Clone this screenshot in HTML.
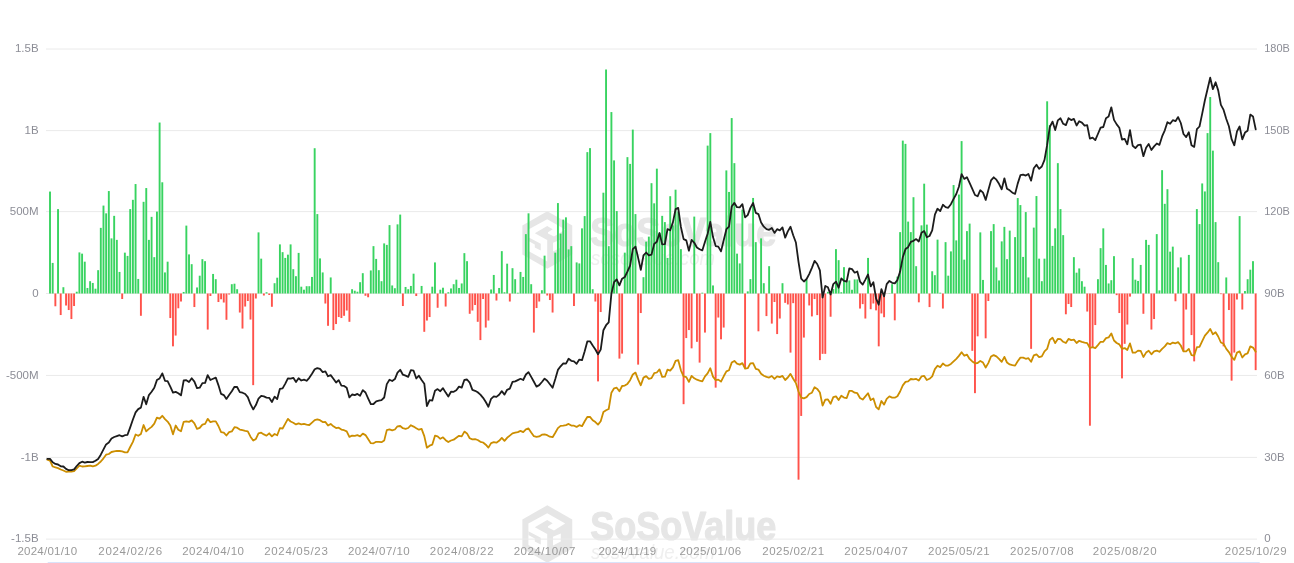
<!DOCTYPE html>
<html lang="en"><head><meta charset="utf-8"><title>Total Bitcoin Spot ETF Net Inflow</title>
<style>
html,body{margin:0;padding:0;background:#fff;}
body{width:1294px;height:563px;overflow:hidden;font-family:"Liberation Sans",sans-serif;}
svg{display:block;}
.lab{font-family:"Liberation Sans",sans-serif;font-size:11.5px;fill:#8c8d96;}
.xl{fill:#999999;}
.wm1{font-family:"Liberation Sans",sans-serif;font-weight:bold;font-size:41px;fill:#e6e6e6;stroke:#e6e6e6;stroke-width:1.2px;stroke-linejoin:round;}
.wm2{font-family:"Liberation Sans",sans-serif;font-style:italic;font-size:20px;fill:#efefef;}
</style></head>
<body>
<svg width="1294" height="563" viewBox="0 0 1294 563">
<rect x="0" y="0" width="1294" height="563" fill="#ffffff"/>
<g transform="translate(0,-294)"><polygon points="547.30,505.20 572.24,519.60 572.24,548.40 547.30,562.80 522.36,548.40 522.36,519.60" fill="#e6e6e6"/><polygon points="528.40,531.30 528.40,523.50 547.20,513.20 565.20,523.50 554.00,530.50 548.00,527.60 548.00,526.30 552.70,523.30 547.20,520.10 534.80,527.30 547.20,534.00 547.20,555.50 528.40,544.90" fill="#ffffff"/><polygon points="528.40,531.30 540.75,537.65 540.75,544.50 534.80,541.50 534.80,538.50 528.40,535.10" fill="#e6e6e6"/><polygon points="553.00,536.80 560.80,533.40 560.80,541.50 553.00,545.50" fill="#ffffff"/><text class="wm1" x="590.3" y="540.4" textLength="186" lengthAdjust="spacingAndGlyphs">SoSoValue</text><text class="wm2" x="591" y="559" textLength="124" lengthAdjust="spacingAndGlyphs">sosovalue.com</text></g>
<g transform="translate(0,0)"><polygon points="547.30,505.20 572.24,519.60 572.24,548.40 547.30,562.80 522.36,548.40 522.36,519.60" fill="#e6e6e6"/><polygon points="528.40,531.30 528.40,523.50 547.20,513.20 565.20,523.50 554.00,530.50 548.00,527.60 548.00,526.30 552.70,523.30 547.20,520.10 534.80,527.30 547.20,534.00 547.20,555.50 528.40,544.90" fill="#ffffff"/><polygon points="528.40,531.30 540.75,537.65 540.75,544.50 534.80,541.50 534.80,538.50 528.40,535.10" fill="#e6e6e6"/><polygon points="553.00,536.80 560.80,533.40 560.80,541.50 553.00,545.50" fill="#ffffff"/><text class="wm1" x="590.3" y="540.4" textLength="186" lengthAdjust="spacingAndGlyphs">SoSoValue</text><text class="wm2" x="591" y="559" textLength="124" lengthAdjust="spacingAndGlyphs">sosovalue.com</text></g>
<g stroke="#eaeaea" stroke-width="1" fill="none">
<line x1="46" y1="49.00" x2="1257" y2="49.00"/>
<line x1="46" y1="130.60" x2="1257" y2="130.60"/>
<line x1="46" y1="211.60" x2="1257" y2="211.60"/>
<line x1="46" y1="293.50" x2="1257" y2="293.50"/>
<line x1="46" y1="375.45" x2="1257" y2="375.45"/>
<line x1="46" y1="457.40" x2="1257" y2="457.40"/>
<line x1="46" y1="539.10" x2="1257" y2="539.10"/>
</g>
<g class="lab" text-anchor="end">
<text x="38.6" y="52.1">1.5B</text>
<text x="38.6" y="133.7">1B</text>
<text x="38.6" y="214.7">500M</text>
<text x="38.6" y="296.6">0</text>
<text x="38.6" y="378.6">-500M</text>
<text x="38.6" y="460.5">-1B</text>
<text x="38.6" y="542.2">-1.5B</text>
</g>
<g class="lab" text-anchor="start">
<text x="1264.2" y="52.1" textLength="25.6" lengthAdjust="spacingAndGlyphs">180B</text>
<text x="1264.2" y="133.7" textLength="25.6" lengthAdjust="spacingAndGlyphs">150B</text>
<text x="1264.2" y="214.7" textLength="25.6" lengthAdjust="spacingAndGlyphs">120B</text>
<text x="1264.2" y="296.6">90B</text>
<text x="1264.2" y="378.6">60B</text>
<text x="1264.2" y="460.5">30B</text>
<text x="1264.2" y="542.2">0</text>
</g>
<g class="lab xl" text-anchor="middle">
<text x="47.3" y="555" textLength="59.7" lengthAdjust="spacing">2024/01/10</text>
<text x="130.2" y="555" textLength="63.7" lengthAdjust="spacing">2024/02/26</text>
<text x="213.1" y="555" textLength="61.7" lengthAdjust="spacing">2024/04/10</text>
<text x="296.0" y="555" textLength="63.7" lengthAdjust="spacing">2024/05/23</text>
<text x="378.8" y="555" textLength="61.7" lengthAdjust="spacing">2024/07/10</text>
<text x="461.7" y="555" textLength="63.7" lengthAdjust="spacing">2024/08/22</text>
<text x="544.6" y="555" textLength="61.7" lengthAdjust="spacing">2024/10/07</text>
<text x="627.4" y="555" textLength="57.7" lengthAdjust="spacing">2024/11/19</text>
<text x="710.3" y="555" textLength="61.7" lengthAdjust="spacing">2025/01/06</text>
<text x="793.2" y="555" textLength="61.7" lengthAdjust="spacing">2025/02/21</text>
<text x="876.1" y="555" textLength="63.7" lengthAdjust="spacing">2025/04/07</text>
<text x="958.9" y="555" textLength="61.7" lengthAdjust="spacing">2025/05/21</text>
<text x="1041.8" y="555" textLength="63.7" lengthAdjust="spacing">2025/07/08</text>
<text x="1124.7" y="555" textLength="63.7" lengthAdjust="spacing">2025/08/20</text>
<text x="1255.7" y="555" textLength="61.7" lengthAdjust="spacing">2025/10/29</text>
</g>
<g fill="#38d360">
<rect x="49.06" y="191.56" width="1.90" height="101.94"/>
<rect x="51.73" y="262.92" width="1.90" height="30.58"/>
<rect x="57.08" y="209.09" width="1.90" height="84.41"/>
<rect x="62.43" y="287.21" width="1.90" height="6.29"/>
<rect x="75.79" y="291.71" width="1.90" height="1.79"/>
<rect x="78.47" y="252.40" width="1.90" height="41.10"/>
<rect x="81.14" y="253.65" width="1.90" height="39.85"/>
<rect x="83.81" y="261.67" width="1.90" height="31.83"/>
<rect x="86.49" y="287.96" width="1.90" height="5.54"/>
<rect x="89.16" y="281.20" width="1.90" height="12.30"/>
<rect x="91.83" y="282.95" width="1.90" height="10.55"/>
<rect x="94.51" y="288.71" width="1.90" height="4.79"/>
<rect x="97.18" y="270.18" width="1.90" height="23.32"/>
<rect x="99.85" y="227.86" width="1.90" height="65.64"/>
<rect x="102.53" y="205.58" width="1.90" height="87.92"/>
<rect x="105.20" y="213.34" width="1.90" height="80.16"/>
<rect x="107.87" y="191.06" width="1.90" height="102.44"/>
<rect x="110.55" y="238.38" width="1.90" height="55.12"/>
<rect x="113.22" y="215.85" width="1.90" height="77.65"/>
<rect x="115.89" y="239.88" width="1.90" height="53.62"/>
<rect x="118.57" y="271.93" width="1.90" height="21.57"/>
<rect x="123.91" y="252.65" width="1.90" height="40.85"/>
<rect x="126.59" y="255.91" width="1.90" height="37.59"/>
<rect x="129.26" y="209.09" width="1.90" height="84.41"/>
<rect x="131.93" y="199.82" width="1.90" height="93.68"/>
<rect x="134.61" y="184.05" width="1.90" height="109.45"/>
<rect x="137.28" y="278.94" width="1.90" height="14.56"/>
<rect x="142.63" y="201.82" width="1.90" height="91.68"/>
<rect x="145.30" y="188.05" width="1.90" height="105.45"/>
<rect x="147.97" y="239.88" width="1.90" height="53.62"/>
<rect x="150.64" y="216.85" width="1.90" height="76.65"/>
<rect x="153.32" y="257.16" width="1.90" height="36.34"/>
<rect x="155.99" y="211.59" width="1.90" height="81.91"/>
<rect x="158.66" y="122.54" width="1.90" height="170.96"/>
<rect x="161.34" y="182.29" width="1.90" height="111.21"/>
<rect x="164.01" y="272.43" width="1.90" height="21.07"/>
<rect x="166.68" y="261.67" width="1.90" height="31.83"/>
<rect x="182.72" y="291.96" width="1.90" height="1.54"/>
<rect x="185.40" y="225.61" width="1.90" height="67.89"/>
<rect x="188.07" y="254.40" width="1.90" height="39.10"/>
<rect x="190.74" y="264.17" width="1.90" height="29.33"/>
<rect x="196.09" y="287.46" width="1.90" height="6.04"/>
<rect x="198.76" y="275.69" width="1.90" height="17.81"/>
<rect x="201.44" y="259.16" width="1.90" height="34.34"/>
<rect x="204.11" y="261.17" width="1.90" height="32.33"/>
<rect x="212.13" y="273.94" width="1.90" height="19.56"/>
<rect x="214.80" y="279.19" width="1.90" height="14.31"/>
<rect x="230.84" y="284.20" width="1.90" height="9.30"/>
<rect x="233.52" y="283.70" width="1.90" height="9.80"/>
<rect x="236.19" y="289.21" width="1.90" height="4.29"/>
<rect x="257.58" y="232.37" width="1.90" height="61.13"/>
<rect x="260.25" y="258.66" width="1.90" height="34.84"/>
<rect x="265.60" y="292.21" width="1.90" height="1.29"/>
<rect x="273.62" y="283.20" width="1.90" height="10.30"/>
<rect x="276.29" y="277.69" width="1.90" height="15.81"/>
<rect x="278.96" y="244.39" width="1.90" height="49.11"/>
<rect x="281.64" y="252.15" width="1.90" height="41.35"/>
<rect x="284.31" y="257.91" width="1.90" height="35.59"/>
<rect x="286.98" y="254.66" width="1.90" height="38.84"/>
<rect x="289.66" y="244.39" width="1.90" height="49.11"/>
<rect x="292.33" y="269.18" width="1.90" height="24.32"/>
<rect x="295.00" y="276.19" width="1.90" height="17.31"/>
<rect x="297.68" y="252.90" width="1.90" height="40.60"/>
<rect x="300.35" y="286.70" width="1.90" height="6.80"/>
<rect x="303.02" y="289.71" width="1.90" height="3.79"/>
<rect x="305.70" y="286.20" width="1.90" height="7.30"/>
<rect x="308.37" y="286.20" width="1.90" height="7.30"/>
<rect x="311.04" y="276.94" width="1.90" height="16.56"/>
<rect x="313.72" y="148.22" width="1.90" height="145.28"/>
<rect x="316.39" y="214.09" width="1.90" height="79.41"/>
<rect x="319.06" y="258.41" width="1.90" height="35.09"/>
<rect x="321.74" y="272.43" width="1.90" height="21.07"/>
<rect x="329.76" y="277.44" width="1.90" height="16.06"/>
<rect x="351.14" y="289.21" width="1.90" height="4.29"/>
<rect x="353.81" y="290.71" width="1.90" height="2.79"/>
<rect x="356.49" y="291.71" width="1.90" height="1.79"/>
<rect x="359.16" y="282.20" width="1.90" height="11.30"/>
<rect x="361.83" y="273.18" width="1.90" height="20.32"/>
<rect x="369.85" y="270.43" width="1.90" height="23.07"/>
<rect x="372.53" y="246.14" width="1.90" height="47.36"/>
<rect x="375.20" y="258.91" width="1.90" height="34.59"/>
<rect x="377.87" y="270.18" width="1.90" height="23.32"/>
<rect x="380.55" y="281.20" width="1.90" height="12.30"/>
<rect x="383.22" y="243.39" width="1.90" height="50.11"/>
<rect x="385.89" y="244.89" width="1.90" height="48.61"/>
<rect x="388.57" y="225.11" width="1.90" height="68.39"/>
<rect x="391.24" y="285.45" width="1.90" height="8.05"/>
<rect x="393.91" y="288.21" width="1.90" height="5.29"/>
<rect x="396.59" y="224.36" width="1.90" height="69.14"/>
<rect x="399.26" y="214.59" width="1.90" height="78.91"/>
<rect x="404.61" y="286.96" width="1.90" height="6.54"/>
<rect x="407.28" y="289.21" width="1.90" height="4.29"/>
<rect x="409.95" y="285.95" width="1.90" height="7.55"/>
<rect x="412.63" y="273.68" width="1.90" height="19.82"/>
<rect x="420.65" y="285.95" width="1.90" height="7.55"/>
<rect x="431.34" y="286.70" width="1.90" height="6.80"/>
<rect x="434.01" y="262.42" width="1.90" height="31.08"/>
<rect x="439.36" y="289.71" width="1.90" height="3.79"/>
<rect x="442.03" y="287.71" width="1.90" height="5.79"/>
<rect x="447.38" y="292.21" width="1.90" height="1.29"/>
<rect x="450.05" y="288.46" width="1.90" height="5.04"/>
<rect x="452.73" y="284.20" width="1.90" height="9.30"/>
<rect x="455.40" y="279.69" width="1.90" height="13.81"/>
<rect x="458.07" y="287.96" width="1.90" height="5.54"/>
<rect x="460.75" y="283.45" width="1.90" height="10.05"/>
<rect x="463.42" y="253.15" width="1.90" height="40.35"/>
<rect x="466.09" y="261.17" width="1.90" height="32.33"/>
<rect x="490.15" y="289.46" width="1.90" height="4.04"/>
<rect x="492.83" y="274.94" width="1.90" height="18.56"/>
<rect x="498.17" y="287.96" width="1.90" height="5.54"/>
<rect x="500.85" y="251.15" width="1.90" height="42.35"/>
<rect x="503.52" y="292.21" width="1.90" height="1.29"/>
<rect x="506.19" y="263.67" width="1.90" height="29.83"/>
<rect x="511.54" y="268.18" width="1.90" height="25.32"/>
<rect x="514.21" y="279.19" width="1.90" height="14.31"/>
<rect x="516.89" y="292.71" width="1.90" height="0.79"/>
<rect x="519.56" y="271.93" width="1.90" height="21.57"/>
<rect x="522.23" y="276.94" width="1.90" height="16.56"/>
<rect x="524.91" y="234.12" width="1.90" height="59.38"/>
<rect x="527.58" y="213.34" width="1.90" height="80.16"/>
<rect x="530.25" y="284.20" width="1.90" height="9.30"/>
<rect x="540.95" y="290.21" width="1.90" height="3.29"/>
<rect x="543.62" y="255.66" width="1.90" height="37.84"/>
<rect x="554.31" y="252.65" width="1.90" height="40.85"/>
<rect x="556.98" y="203.08" width="1.90" height="90.42"/>
<rect x="559.66" y="233.62" width="1.90" height="59.88"/>
<rect x="562.33" y="219.60" width="1.90" height="73.90"/>
<rect x="565.00" y="217.35" width="1.90" height="76.15"/>
<rect x="567.68" y="249.40" width="1.90" height="44.10"/>
<rect x="570.35" y="246.14" width="1.90" height="47.36"/>
<rect x="575.70" y="262.42" width="1.90" height="31.08"/>
<rect x="578.37" y="263.42" width="1.90" height="30.08"/>
<rect x="581.04" y="228.36" width="1.90" height="65.14"/>
<rect x="583.72" y="216.10" width="1.90" height="77.40"/>
<rect x="586.39" y="152.13" width="1.90" height="141.37"/>
<rect x="589.06" y="148.12" width="1.90" height="145.38"/>
<rect x="591.74" y="289.21" width="1.90" height="4.29"/>
<rect x="602.43" y="192.69" width="1.90" height="100.81"/>
<rect x="605.10" y="69.50" width="1.90" height="224.00"/>
<rect x="607.78" y="246.14" width="1.90" height="47.36"/>
<rect x="610.45" y="112.07" width="1.90" height="181.43"/>
<rect x="613.12" y="160.39" width="1.90" height="133.11"/>
<rect x="615.80" y="211.09" width="1.90" height="82.41"/>
<rect x="623.82" y="252.65" width="1.90" height="40.85"/>
<rect x="626.49" y="157.14" width="1.90" height="136.36"/>
<rect x="629.16" y="163.90" width="1.90" height="129.60"/>
<rect x="631.84" y="129.59" width="1.90" height="163.91"/>
<rect x="634.51" y="214.09" width="1.90" height="79.41"/>
<rect x="642.53" y="277.19" width="1.90" height="16.31"/>
<rect x="645.20" y="241.64" width="1.90" height="51.86"/>
<rect x="647.88" y="236.63" width="1.90" height="56.87"/>
<rect x="650.55" y="183.18" width="1.90" height="110.32"/>
<rect x="653.22" y="203.33" width="1.90" height="90.17"/>
<rect x="655.90" y="168.66" width="1.90" height="124.84"/>
<rect x="658.57" y="232.87" width="1.90" height="60.63"/>
<rect x="661.24" y="215.85" width="1.90" height="77.65"/>
<rect x="663.92" y="222.11" width="1.90" height="71.39"/>
<rect x="666.59" y="257.91" width="1.90" height="35.59"/>
<rect x="669.26" y="196.20" width="1.90" height="97.30"/>
<rect x="671.94" y="225.36" width="1.90" height="68.14"/>
<rect x="674.61" y="189.69" width="1.90" height="103.81"/>
<rect x="677.28" y="211.59" width="1.90" height="81.91"/>
<rect x="679.96" y="249.15" width="1.90" height="44.35"/>
<rect x="693.32" y="216.60" width="1.90" height="76.90"/>
<rect x="701.34" y="292.68" width="1.90" height="0.82"/>
<rect x="706.69" y="145.62" width="1.90" height="147.88"/>
<rect x="709.36" y="133.10" width="1.90" height="160.40"/>
<rect x="712.04" y="285.45" width="1.90" height="8.05"/>
<rect x="725.40" y="170.41" width="1.90" height="123.09"/>
<rect x="728.08" y="191.94" width="1.90" height="101.56"/>
<rect x="730.75" y="118.08" width="1.90" height="175.42"/>
<rect x="733.42" y="163.15" width="1.90" height="130.35"/>
<rect x="736.10" y="253.65" width="1.90" height="39.85"/>
<rect x="738.77" y="263.42" width="1.90" height="30.08"/>
<rect x="741.44" y="209.59" width="1.90" height="83.91"/>
<rect x="746.79" y="291.37" width="1.90" height="2.13"/>
<rect x="749.46" y="279.10" width="1.90" height="14.40"/>
<rect x="752.13" y="197.95" width="1.90" height="95.55"/>
<rect x="754.81" y="242.14" width="1.90" height="51.36"/>
<rect x="760.15" y="238.38" width="1.90" height="55.12"/>
<rect x="762.83" y="283.19" width="1.90" height="10.31"/>
<rect x="768.17" y="266.17" width="1.90" height="27.33"/>
<rect x="781.54" y="283.19" width="1.90" height="10.31"/>
<rect x="805.60" y="279.76" width="1.90" height="13.74"/>
<rect x="826.99" y="291.86" width="1.90" height="1.64"/>
<rect x="832.33" y="289.08" width="1.90" height="4.42"/>
<rect x="835.01" y="249.15" width="1.90" height="44.35"/>
<rect x="837.68" y="260.16" width="1.90" height="33.34"/>
<rect x="840.35" y="292.19" width="1.90" height="1.31"/>
<rect x="843.03" y="267.16" width="1.90" height="26.34"/>
<rect x="845.70" y="281.56" width="1.90" height="11.94"/>
<rect x="848.37" y="280.41" width="1.90" height="13.09"/>
<rect x="851.05" y="289.74" width="1.90" height="3.76"/>
<rect x="853.72" y="279.43" width="1.90" height="14.07"/>
<rect x="856.39" y="279.43" width="1.90" height="14.07"/>
<rect x="867.09" y="257.91" width="1.90" height="35.59"/>
<rect x="888.47" y="293.17" width="1.90" height="0.33"/>
<rect x="891.15" y="284.17" width="1.90" height="9.33"/>
<rect x="896.49" y="276.65" width="1.90" height="16.85"/>
<rect x="899.17" y="232.12" width="1.90" height="61.38"/>
<rect x="901.84" y="140.61" width="1.90" height="152.89"/>
<rect x="904.51" y="143.87" width="1.90" height="149.63"/>
<rect x="907.19" y="221.60" width="1.90" height="71.90"/>
<rect x="909.86" y="232.12" width="1.90" height="61.38"/>
<rect x="912.53" y="197.20" width="1.90" height="96.30"/>
<rect x="915.21" y="266.18" width="1.90" height="27.32"/>
<rect x="920.55" y="225.36" width="1.90" height="68.14"/>
<rect x="923.23" y="183.68" width="1.90" height="109.82"/>
<rect x="925.90" y="224.61" width="1.90" height="68.89"/>
<rect x="931.25" y="271.25" width="1.90" height="22.25"/>
<rect x="933.92" y="275.18" width="1.90" height="18.32"/>
<rect x="936.59" y="239.63" width="1.90" height="53.87"/>
<rect x="939.27" y="292.68" width="1.90" height="0.82"/>
<rect x="944.61" y="242.14" width="1.90" height="51.36"/>
<rect x="947.29" y="275.69" width="1.90" height="17.81"/>
<rect x="949.96" y="251.40" width="1.90" height="42.10"/>
<rect x="952.63" y="185.05" width="1.90" height="108.45"/>
<rect x="955.30" y="240.38" width="1.90" height="53.12"/>
<rect x="957.98" y="194.56" width="1.90" height="98.94"/>
<rect x="960.65" y="141.11" width="1.90" height="152.39"/>
<rect x="963.32" y="259.66" width="1.90" height="33.84"/>
<rect x="966.00" y="231.12" width="1.90" height="62.38"/>
<rect x="968.67" y="223.61" width="1.90" height="69.89"/>
<rect x="979.36" y="232.37" width="1.90" height="61.13"/>
<rect x="982.04" y="279.94" width="1.90" height="13.56"/>
<rect x="990.06" y="231.12" width="1.90" height="62.38"/>
<rect x="992.73" y="224.11" width="1.90" height="69.39"/>
<rect x="995.40" y="267.43" width="1.90" height="26.07"/>
<rect x="998.08" y="280.45" width="1.90" height="13.05"/>
<rect x="1000.75" y="241.38" width="1.90" height="52.12"/>
<rect x="1003.42" y="226.86" width="1.90" height="66.64"/>
<rect x="1006.10" y="259.16" width="1.90" height="34.34"/>
<rect x="1008.77" y="230.62" width="1.90" height="62.88"/>
<rect x="1011.44" y="292.68" width="1.90" height="0.82"/>
<rect x="1014.12" y="237.13" width="1.90" height="56.37"/>
<rect x="1016.79" y="198.07" width="1.90" height="95.43"/>
<rect x="1019.46" y="205.08" width="1.90" height="88.42"/>
<rect x="1022.14" y="256.91" width="1.90" height="36.59"/>
<rect x="1024.81" y="212.09" width="1.90" height="81.41"/>
<rect x="1027.48" y="277.44" width="1.90" height="16.06"/>
<rect x="1032.83" y="227.61" width="1.90" height="65.89"/>
<rect x="1035.50" y="196.06" width="1.90" height="97.44"/>
<rect x="1038.18" y="258.66" width="1.90" height="34.84"/>
<rect x="1040.85" y="281.20" width="1.90" height="12.30"/>
<rect x="1043.52" y="258.66" width="1.90" height="34.84"/>
<rect x="1046.20" y="101.30" width="1.90" height="192.20"/>
<rect x="1048.87" y="124.99" width="1.90" height="168.51"/>
<rect x="1051.54" y="245.89" width="1.90" height="47.61"/>
<rect x="1054.22" y="228.36" width="1.90" height="65.14"/>
<rect x="1056.89" y="163.15" width="1.90" height="130.35"/>
<rect x="1059.56" y="209.09" width="1.90" height="84.41"/>
<rect x="1062.24" y="235.13" width="1.90" height="58.37"/>
<rect x="1072.93" y="257.16" width="1.90" height="36.34"/>
<rect x="1075.60" y="272.68" width="1.90" height="20.82"/>
<rect x="1078.28" y="268.43" width="1.90" height="25.07"/>
<rect x="1080.95" y="281.20" width="1.90" height="12.30"/>
<rect x="1083.62" y="286.70" width="1.90" height="6.80"/>
<rect x="1096.99" y="279.19" width="1.90" height="14.31"/>
<rect x="1099.66" y="248.15" width="1.90" height="45.35"/>
<rect x="1102.34" y="228.36" width="1.90" height="65.14"/>
<rect x="1105.01" y="264.92" width="1.90" height="28.58"/>
<rect x="1107.68" y="283.45" width="1.90" height="10.05"/>
<rect x="1110.36" y="280.19" width="1.90" height="13.31"/>
<rect x="1113.03" y="256.16" width="1.90" height="37.34"/>
<rect x="1131.74" y="258.16" width="1.90" height="35.34"/>
<rect x="1134.42" y="279.69" width="1.90" height="13.81"/>
<rect x="1137.09" y="280.95" width="1.90" height="12.55"/>
<rect x="1139.76" y="264.92" width="1.90" height="28.58"/>
<rect x="1145.11" y="239.88" width="1.90" height="53.62"/>
<rect x="1147.78" y="244.89" width="1.90" height="48.61"/>
<rect x="1155.80" y="234.12" width="1.90" height="59.38"/>
<rect x="1158.47" y="290.39" width="1.90" height="3.11"/>
<rect x="1161.15" y="170.16" width="1.90" height="123.34"/>
<rect x="1163.82" y="203.83" width="1.90" height="89.67"/>
<rect x="1166.49" y="189.19" width="1.90" height="104.31"/>
<rect x="1169.17" y="251.65" width="1.90" height="41.85"/>
<rect x="1171.84" y="246.64" width="1.90" height="46.86"/>
<rect x="1177.19" y="267.43" width="1.90" height="26.07"/>
<rect x="1179.86" y="257.41" width="1.90" height="36.09"/>
<rect x="1187.88" y="254.91" width="1.90" height="38.59"/>
<rect x="1195.90" y="209.09" width="1.90" height="84.41"/>
<rect x="1198.57" y="224.11" width="1.90" height="69.39"/>
<rect x="1201.25" y="183.43" width="1.90" height="110.07"/>
<rect x="1203.92" y="191.44" width="1.90" height="102.06"/>
<rect x="1206.59" y="133.10" width="1.90" height="160.40"/>
<rect x="1209.27" y="97.04" width="1.90" height="196.46"/>
<rect x="1211.94" y="150.63" width="1.90" height="142.87"/>
<rect x="1214.61" y="222.11" width="1.90" height="71.39"/>
<rect x="1217.29" y="262.17" width="1.90" height="31.33"/>
<rect x="1225.31" y="277.44" width="1.90" height="16.06"/>
<rect x="1238.67" y="216.10" width="1.90" height="77.40"/>
<rect x="1244.02" y="291.05" width="1.90" height="2.45"/>
<rect x="1246.69" y="279.19" width="1.90" height="14.31"/>
<rect x="1249.37" y="269.68" width="1.90" height="23.82"/>
<rect x="1252.04" y="261.17" width="1.90" height="32.33"/>
</g>
<g fill="#ff524a">
<rect x="54.41" y="293.50" width="1.90" height="12.78"/>
<rect x="59.75" y="293.50" width="1.90" height="21.54"/>
<rect x="65.10" y="293.50" width="1.90" height="12.02"/>
<rect x="67.77" y="293.50" width="1.90" height="16.53"/>
<rect x="70.45" y="293.50" width="1.90" height="25.54"/>
<rect x="73.12" y="293.50" width="1.90" height="12.52"/>
<rect x="121.24" y="293.50" width="1.90" height="5.51"/>
<rect x="139.95" y="293.50" width="1.90" height="22.29"/>
<rect x="169.36" y="293.50" width="1.90" height="24.54"/>
<rect x="172.03" y="293.50" width="1.90" height="52.84"/>
<rect x="174.70" y="293.50" width="1.90" height="42.07"/>
<rect x="177.38" y="293.50" width="1.90" height="14.78"/>
<rect x="180.05" y="293.50" width="1.90" height="8.02"/>
<rect x="193.42" y="293.50" width="1.90" height="13.53"/>
<rect x="206.78" y="293.50" width="1.90" height="36.06"/>
<rect x="209.46" y="293.50" width="1.90" height="2.51"/>
<rect x="217.48" y="293.50" width="1.90" height="8.52"/>
<rect x="220.15" y="293.50" width="1.90" height="5.76"/>
<rect x="222.82" y="293.50" width="1.90" height="9.02"/>
<rect x="225.50" y="293.50" width="1.90" height="26.30"/>
<rect x="228.17" y="293.50" width="1.90" height="1.01"/>
<rect x="238.86" y="293.50" width="1.90" height="19.03"/>
<rect x="241.54" y="293.50" width="1.90" height="35.06"/>
<rect x="244.21" y="293.50" width="1.90" height="13.03"/>
<rect x="246.88" y="293.50" width="1.90" height="7.52"/>
<rect x="249.56" y="293.50" width="1.90" height="26.05"/>
<rect x="252.23" y="293.50" width="1.90" height="91.65"/>
<rect x="254.90" y="293.50" width="1.90" height="5.01"/>
<rect x="262.92" y="293.50" width="1.90" height="2.01"/>
<rect x="268.27" y="293.50" width="1.90" height="1.51"/>
<rect x="270.94" y="293.50" width="1.90" height="13.28"/>
<rect x="324.41" y="293.50" width="1.90" height="10.02"/>
<rect x="327.08" y="293.50" width="1.90" height="32.31"/>
<rect x="332.43" y="293.50" width="1.90" height="36.56"/>
<rect x="335.10" y="293.50" width="1.90" height="30.55"/>
<rect x="337.78" y="293.50" width="1.90" height="23.54"/>
<rect x="340.45" y="293.50" width="1.90" height="24.54"/>
<rect x="343.12" y="293.50" width="1.90" height="22.29"/>
<rect x="345.80" y="293.50" width="1.90" height="17.03"/>
<rect x="348.47" y="293.50" width="1.90" height="28.30"/>
<rect x="364.51" y="293.50" width="1.90" height="2.26"/>
<rect x="367.18" y="293.50" width="1.90" height="3.76"/>
<rect x="401.93" y="293.50" width="1.90" height="12.52"/>
<rect x="415.30" y="293.50" width="1.90" height="2.51"/>
<rect x="423.32" y="293.50" width="1.90" height="38.31"/>
<rect x="425.99" y="293.50" width="1.90" height="27.05"/>
<rect x="428.67" y="293.50" width="1.90" height="23.54"/>
<rect x="436.69" y="293.50" width="1.90" height="14.28"/>
<rect x="444.71" y="293.50" width="1.90" height="13.03"/>
<rect x="468.77" y="293.50" width="1.90" height="20.29"/>
<rect x="471.44" y="293.50" width="1.90" height="17.03"/>
<rect x="474.11" y="293.50" width="1.90" height="11.52"/>
<rect x="476.79" y="293.50" width="1.90" height="28.30"/>
<rect x="479.46" y="293.50" width="1.90" height="46.58"/>
<rect x="482.13" y="293.50" width="1.90" height="5.51"/>
<rect x="484.81" y="293.50" width="1.90" height="34.06"/>
<rect x="487.48" y="293.50" width="1.90" height="27.05"/>
<rect x="495.50" y="293.50" width="1.90" height="7.02"/>
<rect x="508.87" y="293.50" width="1.90" height="8.02"/>
<rect x="532.93" y="293.50" width="1.90" height="39.07"/>
<rect x="535.60" y="293.50" width="1.90" height="14.53"/>
<rect x="538.27" y="293.50" width="1.90" height="8.02"/>
<rect x="546.29" y="293.50" width="1.90" height="2.01"/>
<rect x="548.97" y="293.50" width="1.90" height="6.52"/>
<rect x="551.64" y="293.50" width="1.90" height="19.03"/>
<rect x="573.02" y="293.50" width="1.90" height="12.52"/>
<rect x="594.41" y="293.50" width="1.90" height="8.02"/>
<rect x="597.08" y="293.50" width="1.90" height="87.89"/>
<rect x="599.76" y="293.50" width="1.90" height="18.53"/>
<rect x="618.47" y="293.50" width="1.90" height="65.11"/>
<rect x="621.14" y="293.50" width="1.90" height="60.10"/>
<rect x="637.18" y="293.50" width="1.90" height="71.12"/>
<rect x="639.86" y="293.50" width="1.90" height="19.54"/>
<rect x="682.63" y="293.50" width="1.90" height="110.68"/>
<rect x="685.30" y="293.50" width="1.90" height="44.57"/>
<rect x="687.98" y="293.50" width="1.90" height="36.56"/>
<rect x="690.65" y="293.50" width="1.90" height="54.84"/>
<rect x="696.00" y="293.50" width="1.90" height="48.33"/>
<rect x="698.67" y="293.50" width="1.90" height="69.11"/>
<rect x="704.02" y="293.50" width="1.90" height="39.07"/>
<rect x="714.71" y="293.50" width="1.90" height="94.15"/>
<rect x="717.38" y="293.50" width="1.90" height="24.04"/>
<rect x="720.06" y="293.50" width="1.90" height="45.83"/>
<rect x="722.73" y="293.50" width="1.90" height="34.06"/>
<rect x="744.12" y="293.50" width="1.90" height="74.62"/>
<rect x="757.48" y="293.50" width="1.90" height="37.81"/>
<rect x="765.50" y="293.50" width="1.90" height="22.58"/>
<rect x="770.85" y="293.50" width="1.90" height="30.10"/>
<rect x="773.52" y="293.50" width="1.90" height="8.51"/>
<rect x="776.19" y="293.50" width="1.90" height="40.57"/>
<rect x="778.87" y="293.50" width="1.90" height="25.03"/>
<rect x="784.21" y="293.50" width="1.90" height="9.33"/>
<rect x="786.89" y="293.50" width="1.90" height="10.96"/>
<rect x="789.56" y="293.50" width="1.90" height="59.10"/>
<rect x="792.23" y="293.50" width="1.90" height="9.65"/>
<rect x="794.91" y="293.50" width="1.90" height="88.14"/>
<rect x="797.58" y="293.50" width="1.90" height="186.18"/>
<rect x="800.25" y="293.50" width="1.90" height="122.44"/>
<rect x="802.93" y="293.50" width="1.90" height="44.07"/>
<rect x="808.27" y="293.50" width="1.90" height="11.94"/>
<rect x="810.95" y="293.50" width="1.90" height="22.90"/>
<rect x="813.62" y="293.50" width="1.90" height="5.56"/>
<rect x="816.29" y="293.50" width="1.90" height="21.60"/>
<rect x="818.97" y="293.50" width="1.90" height="66.61"/>
<rect x="821.64" y="293.50" width="1.90" height="60.35"/>
<rect x="824.31" y="293.50" width="1.90" height="60.35"/>
<rect x="829.66" y="293.50" width="1.90" height="23.23"/>
<rect x="859.07" y="293.50" width="1.90" height="15.05"/>
<rect x="861.74" y="293.50" width="1.90" height="10.63"/>
<rect x="864.41" y="293.50" width="1.90" height="25.03"/>
<rect x="869.76" y="293.50" width="1.90" height="15.71"/>
<rect x="872.43" y="293.50" width="1.90" height="9.98"/>
<rect x="875.11" y="293.50" width="1.90" height="16.85"/>
<rect x="877.78" y="293.50" width="1.90" height="52.84"/>
<rect x="880.45" y="293.50" width="1.90" height="19.96"/>
<rect x="883.13" y="293.50" width="1.90" height="23.72"/>
<rect x="885.80" y="293.50" width="1.90" height="0.16"/>
<rect x="893.82" y="293.50" width="1.90" height="26.83"/>
<rect x="917.88" y="293.50" width="1.90" height="8.83"/>
<rect x="928.57" y="293.50" width="1.90" height="13.58"/>
<rect x="941.94" y="293.50" width="1.90" height="15.05"/>
<rect x="971.34" y="293.50" width="1.90" height="57.34"/>
<rect x="974.02" y="293.50" width="1.90" height="99.66"/>
<rect x="976.69" y="293.50" width="1.90" height="42.82"/>
<rect x="984.71" y="293.50" width="1.90" height="44.82"/>
<rect x="987.38" y="293.50" width="1.90" height="7.52"/>
<rect x="1030.16" y="293.50" width="1.90" height="55.34"/>
<rect x="1064.91" y="293.50" width="1.90" height="20.79"/>
<rect x="1067.58" y="293.50" width="1.90" height="10.52"/>
<rect x="1070.26" y="293.50" width="1.90" height="13.53"/>
<rect x="1086.30" y="293.50" width="1.90" height="18.03"/>
<rect x="1088.97" y="293.50" width="1.90" height="132.21"/>
<rect x="1091.64" y="293.50" width="1.90" height="53.59"/>
<rect x="1094.32" y="293.50" width="1.90" height="31.55"/>
<rect x="1115.70" y="293.50" width="1.90" height="1.64"/>
<rect x="1118.38" y="293.50" width="1.90" height="19.54"/>
<rect x="1121.05" y="293.50" width="1.90" height="84.89"/>
<rect x="1123.72" y="293.50" width="1.90" height="50.33"/>
<rect x="1126.40" y="293.50" width="1.90" height="31.05"/>
<rect x="1129.07" y="293.50" width="1.90" height="3.11"/>
<rect x="1142.44" y="293.50" width="1.90" height="20.29"/>
<rect x="1150.46" y="293.50" width="1.90" height="36.06"/>
<rect x="1153.13" y="293.50" width="1.90" height="25.54"/>
<rect x="1174.51" y="293.50" width="1.90" height="7.77"/>
<rect x="1182.53" y="293.50" width="1.90" height="57.84"/>
<rect x="1185.21" y="293.50" width="1.90" height="16.03"/>
<rect x="1190.55" y="293.50" width="1.90" height="41.57"/>
<rect x="1193.23" y="293.50" width="1.90" height="67.86"/>
<rect x="1219.96" y="293.50" width="1.90" height="0.65"/>
<rect x="1222.63" y="293.50" width="1.90" height="52.84"/>
<rect x="1227.98" y="293.50" width="1.90" height="16.53"/>
<rect x="1230.65" y="293.50" width="1.90" height="87.14"/>
<rect x="1233.33" y="293.50" width="1.90" height="59.10"/>
<rect x="1236.00" y="293.50" width="1.90" height="6.01"/>
<rect x="1241.35" y="293.50" width="1.90" height="16.03"/>
<rect x="1254.71" y="293.50" width="1.90" height="76.62"/>
</g>
<polyline points="47.3,459.7 50.0,460.7 52.7,466.5 55.4,467.3 58.0,468.1 60.7,469.5 63.4,470.5 66.0,471.8 68.7,471.5 71.4,471.5 74.1,471.2 76.7,468.5 79.4,465.7 82.1,466.5 84.8,466.4 87.4,466.0 90.1,465.7 92.8,466.4 95.5,465.7 98.1,463.9 100.8,461.5 103.5,458.3 106.1,454.7 108.8,454.0 111.5,452.0 114.2,451.4 116.8,450.9 119.5,451.0 122.2,451.4 124.9,452.3 127.5,452.4 130.2,447.0 132.9,441.9 135.6,434.5 138.2,435.8 140.9,433.9 143.6,425.0 146.2,431.3 148.9,428.9 151.6,426.9 154.3,423.7 156.9,417.6 159.6,418.7 162.3,415.8 165.0,419.1 167.6,421.6 170.3,425.5 173.0,434.3 175.7,425.5 178.3,429.7 181.0,431.3 183.7,421.8 186.3,421.4 189.0,421.9 191.7,420.4 194.4,423.4 197.0,428.9 199.7,427.9 202.4,424.6 205.1,423.8 207.7,418.9 210.4,422.1 213.1,421.4 215.8,421.4 218.4,426.0 221.1,432.2 223.8,432.6 226.4,435.5 229.1,432.1 231.8,431.4 234.5,427.2 237.1,427.7 239.8,429.6 242.5,430.2 245.2,430.9 247.8,431.4 250.5,436.7 253.2,440.6 255.9,438.9 258.5,433.4 261.2,432.7 263.9,434.4 266.5,435.7 269.2,433.3 271.9,436.4 274.6,434.0 277.2,435.3 279.9,428.2 282.6,428.5 285.3,423.6 287.9,418.9 290.6,421.5 293.3,422.7 296.0,424.4 298.6,423.4 301.3,424.4 304.0,423.9 306.6,424.6 309.3,425.0 312.0,422.6 314.7,420.1 317.3,419.4 320.0,420.2 322.7,422.1 325.4,421.9 328.0,425.6 330.7,423.9 333.4,426.3 336.1,428.1 338.7,427.7 341.4,429.6 344.1,430.2 346.7,431.4 349.4,436.8 352.1,435.7 354.8,435.9 357.4,435.2 360.1,436.3 362.8,433.6 365.5,435.1 368.1,439.1 370.8,443.2 373.5,443.3 376.2,441.8 378.8,441.9 381.5,442.2 384.2,440.6 386.8,430.1 389.5,429.4 392.2,430.3 394.9,429.5 397.5,426.3 400.2,426.0 402.9,428.2 405.6,428.8 408.2,428.0 410.9,425.2 413.6,426.6 416.3,428.3 418.9,429.7 421.6,428.9 424.3,436.1 426.9,447.7 429.6,445.7 432.3,444.6 435.0,435.7 437.6,436.4 440.3,438.8 443.0,437.3 445.7,440.2 448.3,442.1 451.0,440.5 453.7,439.7 456.3,437.7 459.0,435.8 461.7,436.4 464.4,431.6 467.0,433.4 469.7,438.2 472.4,439.4 475.1,439.2 477.7,440.0 480.4,441.8 483.1,442.5 485.8,444.7 488.4,447.6 491.1,443.1 493.8,442.2 496.4,442.7 499.1,440.8 501.8,437.9 504.5,440.9 507.1,437.8 509.8,435.6 512.5,433.4 515.2,432.7 517.8,432.1 520.5,430.9 523.2,432.1 525.9,429.4 528.5,428.4 531.2,432.5 533.9,436.2 536.5,436.9 539.2,436.4 541.9,434.7 544.6,434.4 547.2,435.2 549.9,436.7 552.6,437.2 555.3,432.8 557.9,428.1 560.6,425.9 563.3,425.7 566.0,425.1 568.6,423.9 571.3,425.6 574.0,425.7 576.6,426.9 579.3,425.2 582.0,426.2 584.7,421.3 587.3,417.0 590.0,416.9 592.7,420.2 595.4,422.1 598.0,424.6 600.7,421.2 603.4,412.0 606.1,410.2 608.7,409.0 611.4,392.7 614.1,388.3 616.7,387.7 619.4,391.3 622.1,386.0 624.8,385.6 627.4,383.9 630.1,380.2 632.8,374.5 635.5,372.6 638.1,379.4 640.8,385.3 643.5,377.6 646.2,376.1 648.8,378.8 651.5,378.1 654.2,373.2 656.8,372.5 659.5,369.4 662.2,376.9 664.9,376.7 667.5,369.6 670.2,370.6 672.9,367.4 675.6,360.9 678.2,360.1 680.9,370.3 683.6,376.4 686.3,377.1 688.9,381.9 691.6,375.9 694.3,378.3 696.9,379.7 699.6,380.6 702.3,381.4 705.0,376.3 707.6,373.3 710.3,368.2 713.0,376.6 715.7,380.1 718.3,379.6 721.0,381.6 723.7,376.3 726.4,371.4 729.0,370.2 731.7,362.6 734.4,360.9 737.0,363.7 739.7,364.6 742.4,363.1 745.1,368.7 747.7,368.2 750.4,363.4 753.1,363.1 755.8,368.9 758.4,369.6 761.1,373.8 763.8,375.7 766.5,376.9 769.1,377.6 771.8,376.0 774.5,378.9 777.1,376.4 779.8,377.1 782.5,375.9 785.2,380.0 787.8,377.5 790.5,373.9 793.2,378.8 795.9,383.0 798.5,391.5 801.2,397.6 803.9,398.4 806.6,397.1 809.2,394.0 811.9,392.7 814.6,387.2 817.2,388.9 819.9,392.5 822.6,405.6 825.3,399.7 827.9,399.4 830.6,403.8 833.3,397.2 836.0,396.4 838.6,400.0 841.3,395.7 844.0,397.6 846.7,398.0 849.3,390.9 852.0,390.9 854.7,392.7 857.3,393.2 860.0,398.0 862.7,399.6 865.4,396.4 868.0,393.2 870.7,400.1 873.4,398.5 876.1,407.0 878.7,409.3 881.4,401.0 884.1,404.6 886.7,398.8 889.4,396.4 892.1,397.6 894.8,397.7 897.4,396.3 900.1,391.5 902.8,385.4 905.5,381.9 908.1,381.4 910.8,379.0 913.5,379.4 916.2,378.9 918.8,380.6 921.5,376.4 924.2,375.9 926.8,380.0 929.5,378.8 932.2,376.4 934.9,369.1 937.5,365.7 940.2,367.1 942.9,363.5 945.6,365.6 948.2,365.6 950.9,363.9 953.6,361.3 956.3,358.8 958.9,355.9 961.6,352.2 964.3,355.8 966.9,354.6 969.6,358.9 972.3,361.4 975.0,363.3 977.6,363.0 980.3,360.9 983.0,362.6 985.7,367.5 988.3,363.1 991.0,356.5 993.7,355.1 996.4,356.4 999.0,358.8 1001.7,361.9 1004.4,356.9 1007.0,362.5 1009.7,364.4 1012.4,365.1 1015.1,365.6 1017.7,361.2 1020.4,357.6 1023.1,357.6 1025.8,358.8 1028.4,358.2 1031.1,361.8 1033.8,355.4 1036.5,354.4 1039.1,357.1 1041.8,356.4 1044.5,351.3 1047.1,348.9 1049.8,339.9 1052.5,337.7 1055.2,343.1 1057.8,339.0 1060.5,339.2 1063.2,341.8 1065.9,343.0 1068.5,338.9 1071.2,340.1 1073.9,339.6 1076.6,343.0 1079.2,340.8 1081.9,341.8 1084.6,342.6 1087.2,343.1 1089.9,348.0 1092.6,347.1 1095.3,348.1 1097.9,345.1 1100.6,341.8 1103.3,341.8 1106.0,338.1 1108.6,337.4 1111.3,333.4 1114.0,340.5 1116.7,343.0 1119.3,344.4 1122.0,348.8 1124.7,348.1 1127.3,350.0 1130.0,343.4 1132.7,352.7 1135.4,352.6 1138.0,350.6 1140.7,350.8 1143.4,357.0 1146.1,352.6 1148.7,350.7 1151.4,354.3 1154.1,351.3 1156.8,350.6 1159.4,351.8 1162.1,348.8 1164.8,346.4 1167.4,343.1 1170.1,344.3 1172.8,342.6 1175.5,343.3 1178.1,342.1 1180.8,345.5 1183.5,351.3 1186.2,351.3 1188.8,348.9 1191.5,355.1 1194.2,355.5 1196.9,347.2 1199.5,346.8 1202.2,341.2 1204.9,335.6 1207.5,332.7 1210.2,328.9 1212.9,334.3 1215.6,332.2 1218.2,336.5 1220.9,342.5 1223.6,343.8 1226.3,348.9 1228.9,352.1 1231.6,356.9 1234.3,359.9 1237.0,352.6 1239.6,351.4 1242.3,357.5 1245.0,354.3 1247.6,353.4 1250.3,346.4 1253.0,347.6 1255.7,351.7" fill="none" stroke="#cc8e00" stroke-width="1.8" stroke-linejoin="round" stroke-linecap="round"/>
<polyline points="47.3,458.9 50.0,458.9 52.7,462.3 55.4,463.9 58.0,464.5 60.7,466.3 63.4,466.5 66.0,468.9 68.7,470.2 71.4,470.2 74.1,469.4 76.7,466.0 79.4,463.1 82.1,461.7 84.8,462.6 87.4,462.0 90.1,462.2 92.8,462.1 95.5,460.8 98.1,458.9 100.8,454.7 103.5,449.4 106.1,444.4 108.8,442.6 111.5,438.5 114.2,437.0 116.8,436.1 119.5,435.2 122.2,436.4 124.9,435.2 127.5,434.8 130.2,427.4 132.9,419.5 135.6,412.4 138.2,409.1 140.9,407.6 143.6,396.8 146.2,404.3 148.9,395.1 151.6,391.8 154.3,387.8 156.9,380.1 159.6,378.4 162.3,373.4 165.0,380.8 167.6,381.2 170.3,386.6 173.0,392.6 175.7,391.9 178.3,393.2 181.0,395.4 183.7,380.5 186.3,380.2 189.0,382.0 191.7,378.3 194.4,381.6 197.0,388.1 199.7,387.7 202.4,383.1 205.1,382.9 207.7,375.1 210.4,380.0 213.1,378.8 215.8,377.6 218.4,385.1 221.1,393.9 223.8,395.1 226.4,398.9 229.1,395.0 231.8,391.3 234.5,386.8 237.1,387.0 239.8,392.1 242.5,392.7 245.2,394.0 247.8,397.1 250.5,404.2 253.2,409.4 255.9,405.1 258.5,398.6 261.2,395.9 263.9,396.4 266.5,397.6 269.2,397.8 271.9,402.0 274.6,396.6 277.2,399.1 279.9,388.8 282.6,388.4 285.3,383.6 287.9,378.3 290.6,378.7 293.3,377.8 296.0,382.0 298.6,378.3 301.3,380.5 304.0,379.6 306.6,380.8 309.3,377.8 312.0,373.7 314.7,369.3 317.3,368.1 320.0,368.9 322.7,372.1 325.4,371.3 328.0,376.3 330.7,375.1 333.4,378.7 336.1,382.5 338.7,380.1 341.4,385.7 344.1,385.9 346.7,387.7 349.4,397.4 352.1,394.5 354.8,395.1 357.4,393.9 360.1,395.7 362.8,390.1 365.5,392.5 368.1,398.3 370.8,404.1 373.5,404.0 376.2,401.3 378.8,400.6 381.5,400.1 384.2,397.5 386.8,384.1 389.5,379.7 392.2,381.0 394.9,379.1 397.5,372.6 400.2,369.8 402.9,374.7 405.6,375.7 408.2,376.8 410.9,370.1 413.6,370.7 416.3,378.5 418.9,375.7 421.6,380.0 424.3,383.7 426.9,406.2 429.6,400.2 432.3,400.6 435.0,390.8 437.6,389.1 440.3,391.2 443.0,388.2 445.7,392.6 448.3,396.5 451.0,391.7 453.7,391.8 456.3,390.2 459.0,386.6 461.7,387.6 464.4,379.8 467.0,379.5 469.7,382.6 472.4,389.9 475.1,390.8 477.7,392.3 480.4,394.6 483.1,397.8 485.8,402.0 488.4,406.8 491.1,398.8 493.8,396.4 496.4,396.9 499.1,394.7 501.8,391.1 504.5,394.6 507.1,389.8 509.8,388.7 512.5,381.9 515.2,381.4 517.8,380.1 520.5,378.8 523.2,380.0 525.9,374.5 528.5,372.1 531.2,376.9 533.9,381.8 536.5,386.6 539.2,385.1 541.9,382.0 544.6,378.6 547.2,380.8 549.9,384.2 552.6,387.8 555.3,379.1 557.9,369.9 560.6,366.3 563.3,363.4 566.0,363.6 568.6,358.8 571.3,360.8 574.0,361.4 576.6,363.8 579.3,359.6 582.0,360.2 584.7,351.2 587.3,341.4 590.0,341.3 592.7,345.6 595.4,349.5 598.0,354.3 600.7,349.6 603.4,330.2 606.1,325.2 608.7,322.3 611.4,293.7 614.1,282.1 616.7,279.4 619.4,285.4 622.1,278.7 624.8,277.0 627.4,271.7 630.1,265.6 632.8,249.1 635.5,246.7 638.1,257.6 640.8,269.9 643.5,255.4 646.2,252.5 648.8,255.4 651.5,254.6 654.2,243.9 656.8,241.8 659.5,233.0 662.2,244.4 664.9,244.2 667.5,229.1 670.2,230.3 672.9,222.4 675.6,209.1 678.2,207.9 680.9,227.0 683.6,239.1 686.3,240.4 688.9,250.7 691.6,239.9 694.3,242.8 696.9,247.5 699.6,249.2 702.3,250.4 705.0,241.8 707.6,234.0 710.3,221.8 713.0,237.1 715.7,246.1 718.3,246.6 721.0,251.4 723.7,240.2 726.4,229.2 729.0,226.7 731.7,206.5 734.4,202.9 737.0,207.2 739.7,207.3 742.4,204.1 745.1,217.4 747.7,215.1 750.4,207.9 753.1,203.0 755.8,212.9 758.4,214.1 761.1,222.6 763.8,226.7 766.5,229.1 769.1,229.8 771.8,228.0 774.5,232.9 777.1,229.2 779.8,230.3 782.5,227.4 785.2,237.7 787.8,231.4 790.5,226.7 793.2,235.2 795.9,242.5 798.5,261.8 801.2,278.6 803.9,281.5 806.6,279.0 809.2,274.1 811.9,267.8 814.6,260.9 817.2,264.0 819.9,270.4 822.6,297.6 825.3,286.0 827.9,287.2 830.6,294.5 833.3,284.1 836.0,281.6 838.6,287.7 841.3,278.4 844.0,280.9 846.7,281.5 849.3,268.4 852.0,269.1 854.7,272.7 857.3,271.5 860.0,281.6 862.7,284.6 865.4,279.6 868.0,274.5 870.7,286.4 873.4,282.3 876.1,298.7 878.7,304.7 881.4,289.1 884.1,296.4 886.7,284.1 889.4,280.9 892.1,282.8 894.8,283.4 897.4,280.1 900.1,271.6 902.8,257.3 905.5,249.1 908.1,247.2 910.8,241.9 913.5,240.8 916.2,239.1 918.8,241.5 921.5,232.8 924.2,231.1 926.8,237.2 929.5,236.0 932.2,230.4 934.9,214.6 937.5,208.7 940.2,211.1 942.9,204.8 945.6,207.1 948.2,207.8 950.9,204.2 953.6,198.9 956.3,194.0 958.9,186.7 961.6,174.1 964.3,178.9 966.9,177.2 969.6,182.9 972.3,188.9 975.0,195.0 977.6,196.3 980.3,190.2 983.0,192.6 985.7,199.9 988.3,190.2 991.0,180.4 993.7,177.3 996.4,179.7 999.0,183.8 1001.7,189.3 1004.4,178.3 1007.0,188.7 1009.7,190.3 1012.4,192.7 1015.1,193.9 1017.7,183.6 1020.4,175.2 1023.1,174.7 1025.8,175.6 1028.4,174.0 1031.1,180.6 1033.8,168.2 1036.5,164.7 1039.1,168.9 1041.8,166.5 1044.5,159.8 1047.1,145.2 1049.8,127.0 1052.5,121.6 1055.2,130.1 1057.8,120.4 1060.5,118.3 1063.2,123.8 1065.9,125.1 1068.5,118.2 1071.2,120.1 1073.9,118.9 1076.6,125.5 1079.2,121.3 1081.9,122.6 1084.6,125.6 1087.2,125.2 1089.9,138.6 1092.6,137.7 1095.3,140.1 1097.9,134.0 1100.6,127.6 1103.3,127.0 1106.0,118.2 1108.6,116.6 1111.3,107.3 1114.0,119.9 1116.7,124.4 1119.3,127.8 1122.0,139.5 1124.7,138.9 1127.3,144.3 1130.0,130.2 1132.7,145.8 1135.4,148.1 1138.0,145.1 1140.7,144.6 1143.4,156.2 1146.1,147.7 1148.7,144.0 1151.4,150.0 1154.1,146.4 1156.8,143.5 1159.4,144.9 1162.1,136.4 1164.8,130.3 1167.4,122.2 1170.1,123.8 1172.8,120.2 1175.5,121.2 1178.1,117.1 1180.8,123.0 1183.5,134.0 1186.2,137.1 1188.8,132.2 1191.5,145.2 1194.2,146.9 1196.9,129.2 1199.5,126.5 1202.2,113.6 1204.9,100.3 1207.5,89.3 1210.2,77.7 1212.9,89.2 1215.6,82.3 1218.2,90.4 1220.9,104.9 1223.6,109.9 1226.3,119.0 1228.9,126.3 1231.6,139.2 1234.3,145.3 1237.0,131.4 1239.6,126.5 1242.3,139.4 1245.0,132.6 1247.6,130.7 1250.3,114.6 1253.0,116.4 1255.7,129.3" fill="none" stroke="#1c1c1c" stroke-width="1.8" stroke-linejoin="round" stroke-linecap="round"/>
<rect x="47.7" y="562" width="1212" height="1" fill="#d9e3fa"/>
</svg>
</body></html>
